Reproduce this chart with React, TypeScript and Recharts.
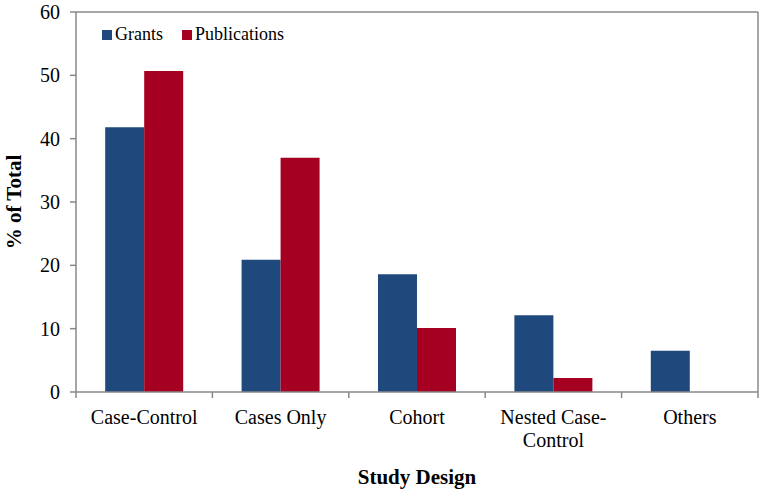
import React from 'react';
import { BarChart, Bar, XAxis, YAxis, CartesianGrid } from 'recharts';

const categories = ['Case-Control', 'Cases Only', 'Cohort', 'Nested Case-Control', 'Others'];
const tickLines: Record<string, string[]> = {
  'Nested Case-Control': ['Nested Case-', 'Control'],
};
const grants = [41.8, 20.9, 18.6, 12.1, 6.5];
const publications = [50.7, 37.0, 10.1, 2.2, 0];
const yTicks = [0, 10, 20, 30, 40, 50, 60];
const seriesNames = ['Grants', 'Publications'];

const data = categories.map((c, i) => ({ name: c, grants: grants[i], publications: publications[i] }));

const W = 764;
const H = 496;
const M = { top: 12, right: 6, bottom: 0, left: 0 };
const Y_W = 76;
const X_H = 104;
const FONT = '"Liberation Serif", "Times New Roman", serif';
const AXIS = '#898989';
const BLUE = '#1F497D';
const RED = '#A50021';
const colors = [BLUE, RED];

const halfBand = (W - M.left - M.right - Y_W) / categories.length / 2;

const XTick = (props: any) => {
  const { x, y, payload, index } = props;
  const lines = tickLines[payload.value] || [payload.value];
  const h = payload.offset ? payload.offset : halfBand;
  return (
    <g>
      <line x1={x - h} x2={x - h} y1={y} y2={y + 6} stroke={AXIS} strokeWidth={1.5} />
      {index === categories.length - 1 && (
        <line x1={x + h} x2={x + h} y1={y} y2={y + 6} stroke={AXIS} strokeWidth={1.5} />
      )}
      <text x={x} y={y + 32} textAnchor="middle" fontSize={20} fontFamily={FONT} fill="#000">
        {lines.map((l: string, i: number) => (
          <tspan key={i} x={x} dy={i === 0 ? 0 : 23}>{l}</tspan>
        ))}
      </text>
    </g>
  );
};

const LegendBox = () => (
  <div style={{ position: 'absolute', left: 102, top: 24, display: 'flex', alignItems: 'center', fontFamily: FONT, fontSize: 18, color: '#000' }}>
    {seriesNames.map((n, i) => (
      <div key={n} style={{ display: 'flex', alignItems: 'center', marginRight: 19 }}>
        <div style={{ width: 10, height: 10, background: colors[i], marginRight: 3 }} />
        <span>{n}</span>
      </div>
    ))}
  </div>
);

export default function App() {
  return (
    <div style={{ position: 'absolute', left: 0, top: 0, width: W, height: H, background: '#fff' }}>
      <BarChart width={W} height={H} data={data} margin={M} barCategoryGap="21.4%" barGap={0}>
        <CartesianGrid
          xAxisId="cat"
          yAxisId="left"
          stroke={AXIS}
          strokeWidth={1.5}
          horizontalCoordinatesGenerator={(p: any) => [p.offset.top]}
          verticalCoordinatesGenerator={(p: any) => [p.offset.left + p.offset.width]}
        />
        <XAxis
          xAxisId="cat"
          dataKey="name"
          height={X_H}
          axisLine={{ stroke: AXIS, strokeWidth: 1.5 }}
          tickLine={false}
          tickSize={0}
          tickMargin={0}
          interval={0}
          tick={<XTick />}
          label={{ value: 'Study Design', position: 'insideBottom', offset: 12, style: { fontFamily: FONT, fontSize: 21, fontWeight: 'bold', fill: '#000' } }}
        />
        <YAxis
          yAxisId="left"
          width={Y_W}
          domain={[0, 60]}
          ticks={yTicks}
          interval={0}
          axisLine={{ stroke: AXIS, strokeWidth: 1.5 }}
          tickLine={{ stroke: AXIS, strokeWidth: 1.5 }}
          tickSize={6}
          tickMargin={10}
          tick={{ fontFamily: FONT, fontSize: 20, fill: '#000' }}
          label={(p: any) => {
            const vb = p.viewBox || {};
            const cy = (vb.y ?? 12) + (vb.height ?? 380) / 2;
            return (
              <text x={21} y={cy} transform={`rotate(-90, 21, ${cy})`} textAnchor="middle" fontFamily={FONT} fontSize={21} fontWeight="bold" fill="#000">
                % of Total
              </text>
            );
          }}
        />
        <Bar xAxisId="cat" yAxisId="left" dataKey="grants" name="Grants" fill={BLUE} isAnimationActive={false} />
        <Bar xAxisId="cat" yAxisId="left" dataKey="publications" name="Publications" fill={RED} isAnimationActive={false} />
      </BarChart>
      <LegendBox />
    </div>
  );
}
